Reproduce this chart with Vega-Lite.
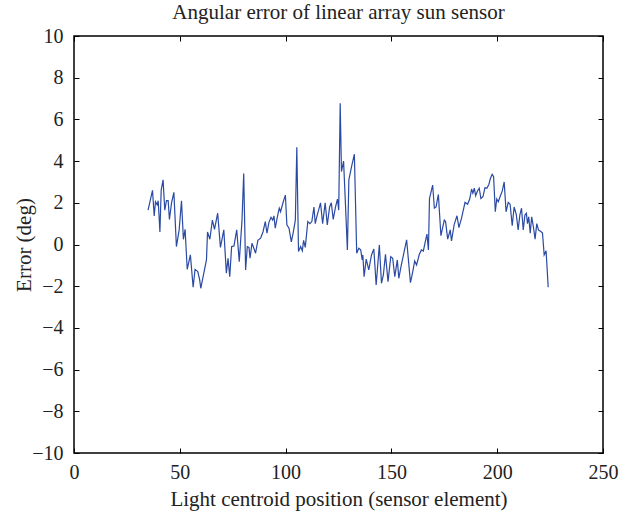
{
  "$schema": "https://vega.github.io/schema/vega-lite/v6.json",
  "width": 529,
  "height": 417,
  "autosize": {"type": "none"},
  "padding": {"left": 74, "top": 36, "right": 31, "bottom": 64},
  "background": "white",
  "config": {
    "font": "Liberation Serif",
    "view": {"stroke": "black", "strokeWidth": 1.5},
    "axis": {"grid": false, "domain": false, "tickColor": "black", "tickSize": -5, "tickWidth": 1, "labelFlush": false, "labelFont": "Liberation Serif", "labelFontSize": 20, "labelColor": "#222", "titleFont": "Liberation Serif", "titleFontSize": 21, "titleFontWeight": "normal", "titleColor": "#222"}
  },
  "title": {"text": "Angular error of linear array sun sensor", "font": "Liberation Serif", "fontSize": 21, "fontWeight": "normal", "color": "#222", "offset": 3},
  "data": {"values": [
    {"x":35.0,"y":1.65},{"x":37.1,"y":2.6},{"x":37.9,"y":1.37},{"x":38.5,"y":2.05},{"x":39.3,"y":1.9},{"x":39.8,"y":2.1},{"x":40.6,"y":0.6},{"x":41.2,"y":2.6},{"x":42.1,"y":3.1},{"x":42.9,"y":1.65},{"x":43.7,"y":2.1},{"x":44.5,"y":2.1},{"x":45.1,"y":1.2},{"x":46.1,"y":2.0},{"x":47.2,"y":2.5},{"x":48.4,"y":-0.1},{"x":49.7,"y":0.7},{"x":50.8,"y":2.1},{"x":51.7,"y":0.25},{"x":52.5,"y":0.73},{"x":53.5,"y":-1.19},{"x":55.0,"y":-0.5},{"x":56.3,"y":-2.05},{"x":57.2,"y":-1.19},{"x":58.5,"y":-1.3},{"x":59.4,"y":-1.7},{"x":59.9,"y":-2.1},{"x":61.3,"y":-1.4},{"x":62.6,"y":-0.74},{"x":63.1,"y":0.6},{"x":64.2,"y":0.25},{"x":65.4,"y":1.17},{"x":66.4,"y":0.73},{"x":67.9,"y":1.5},{"x":69.2,"y":-0.14},{"x":70.8,"y":0.7},{"x":72.0,"y":-1.38},{"x":72.8,"y":-0.66},{"x":73.6,"y":-1.54},{"x":74.5,"y":-0.1},{"x":75.6,"y":-0.07},{"x":76.9,"y":0.7},{"x":78.1,"y":-0.82},{"x":79.4,"y":1.17},{"x":80.2,"y":3.4},{"x":81.1,"y":-1.22},{"x":81.9,"y":-0.1},{"x":82.7,"y":-0.14},{"x":83.2,"y":-0.66},{"x":84.1,"y":0.06},{"x":85.0,"y":-0.18},{"x":85.8,"y":-0.42},{"x":86.9,"y":0.2},{"x":88.2,"y":0.3},{"x":89.3,"y":0.6},{"x":90.4,"y":1.1},{"x":91.2,"y":0.54},{"x":92.1,"y":1.05},{"x":93.1,"y":1.3},{"x":93.9,"y":1.17},{"x":94.5,"y":1.37},{"x":95.1,"y":0.78},{"x":96.1,"y":1.33},{"x":97.0,"y":1.74},{"x":97.6,"y":1.57},{"x":98.9,"y":2.05},{"x":99.9,"y":2.37},{"x":100.6,"y":0.94},{"x":101.6,"y":0.78},{"x":102.7,"y":0.13},{"x":103.6,"y":0.57},{"x":104.6,"y":1.17},{"x":105.3,"y":4.66},{"x":106.1,"y":-0.34},{"x":107.1,"y":-0.1},{"x":107.9,"y":-0.3},{"x":108.5,"y":0.2},{"x":109.3,"y":-0.14},{"x":110.5,"y":1.1},{"x":111.5,"y":1.0},{"x":112.4,"y":1.1},{"x":113.4,"y":1.8},{"x":114.0,"y":1.0},{"x":114.9,"y":1.4},{"x":115.6,"y":1.65},{"x":116.5,"y":2.0},{"x":117.5,"y":1.0},{"x":118.7,"y":2.0},{"x":119.7,"y":0.94},{"x":120.8,"y":1.8},{"x":121.6,"y":2.0},{"x":122.5,"y":1.2},{"x":123.6,"y":1.8},{"x":124.5,"y":2.18},{"x":125.1,"y":1.65},{"x":125.8,"y":6.77},{"x":126.4,"y":3.5},{"x":127.4,"y":4.0},{"x":128.3,"y":1.9},{"x":129.2,"y":-0.26},{"x":129.9,"y":3.1},{"x":131.1,"y":3.7},{"x":132.5,"y":4.33},{"x":133.6,"y":-0.42},{"x":134.6,"y":-0.18},{"x":135.5,"y":-0.26},{"x":136.2,"y":-0.74},{"x":136.5,"y":-0.5},{"x":137.1,"y":-1.54},{"x":138.1,"y":-0.7},{"x":139.3,"y":-1.22},{"x":140.6,"y":-0.5},{"x":141.7,"y":-0.22},{"x":142.8,"y":-1.94},{"x":144.3,"y":-0.02},{"x":145.3,"y":-1.86},{"x":146.2,"y":-1.46},{"x":147.2,"y":-0.47},{"x":148.4,"y":-1.78},{"x":149.7,"y":-0.58},{"x":150.6,"y":-0.66},{"x":151.6,"y":-1.54},{"x":152.8,"y":-0.74},{"x":153.5,"y":-1.62},{"x":154.7,"y":-0.98},{"x":157.2,"y":0.22},{"x":159.0,"y":-1.83},{"x":160.1,"y":-1.3},{"x":161.0,"y":-0.79},{"x":161.9,"y":-0.98},{"x":163.2,"y":-0.47},{"x":164.2,"y":-0.26},{"x":165.1,"y":-0.31},{"x":166.0,"y":0.13},{"x":166.8,"y":0.5},{"x":167.5,"y":-0.26},{"x":168.0,"y":2.2},{"x":169.5,"y":2.85},{"x":170.3,"y":1.74},{"x":171.1,"y":1.8},{"x":172.2,"y":2.4},{"x":173.4,"y":0.42},{"x":175.0,"y":1.17},{"x":175.6,"y":1.1},{"x":176.6,"y":0.26},{"x":177.8,"y":0.7},{"x":178.4,"y":0.17},{"x":179.7,"y":0.97},{"x":181.0,"y":1.38},{"x":181.9,"y":0.81},{"x":183.2,"y":1.29},{"x":184.8,"y":2.02},{"x":186.0,"y":1.93},{"x":187.0,"y":2.18},{"x":187.9,"y":2.66},{"x":188.5,"y":2.46},{"x":189.2,"y":2.7},{"x":189.8,"y":2.34},{"x":190.7,"y":2.57},{"x":191.5,"y":2.7},{"x":192.3,"y":2.2},{"x":193.3,"y":2.3},{"x":194.2,"y":2.72},{"x":195.1,"y":2.7},{"x":196.1,"y":2.89},{"x":196.7,"y":3.14},{"x":197.6,"y":3.37},{"x":198.3,"y":3.25},{"x":199.1,"y":1.57},{"x":199.8,"y":2.18},{"x":200.5,"y":2.05},{"x":201.4,"y":2.3},{"x":202.4,"y":2.57},{"x":203.3,"y":3.0},{"x":204.2,"y":1.57},{"x":205.2,"y":2.02},{"x":206.1,"y":1.93},{"x":207.1,"y":0.9},{"x":208.0,"y":1.8},{"x":209.0,"y":1.45},{"x":209.9,"y":0.7},{"x":210.7,"y":1.41},{"x":211.5,"y":1.74},{"x":212.3,"y":0.7},{"x":213.1,"y":1.41},{"x":213.8,"y":1.5},{"x":214.3,"y":1.0},{"x":214.9,"y":1.33},{"x":215.6,"y":0.54},{"x":216.3,"y":1.33},{"x":217.1,"y":0.85},{"x":217.9,"y":0.26},{"x":218.7,"y":1.0},{"x":219.5,"y":0.7},{"x":220.3,"y":0.65},{"x":220.9,"y":0.6},{"x":221.4,"y":0.55},{"x":222.2,"y":-0.5},{"x":223.1,"y":-0.3},{"x":224.1,"y":-2.05}
  ]},
  "layer": [
    {
      "mark": {"type": "line", "color": "#2B4AA3", "strokeWidth": 1.2},
      "encoding": {
        "x": {"field": "x", "type": "quantitative", "scale": {"domain": [0, 250], "nice": false, "zero": false}, "axis": {"orient": "bottom", "title": "Light centroid position (sensor element)", "values": [0, 50, 100, 150, 200, 250], "labelPadding": 14, "titlePadding": 6}},
        "y": {"field": "y", "type": "quantitative", "scale": {"domain": [-10, 10], "nice": false, "zero": false}, "axis": {"orient": "left", "title": "Error (deg)", "values": [-10, -8, -6, -4, -2, 0, 2, 4, 6, 8, 10], "labelPadding": 16, "titlePadding": -3}}
      }
    },
    {
      "mark": {"type": "line", "strokeOpacity": 0},
      "encoding": {
        "x": {"field": "x", "type": "quantitative", "scale": {"domain": [0, 250], "nice": false, "zero": false}, "axis": {"orient": "top", "title": null, "labels": false, "values": [0, 50, 100, 150, 200, 250]}},
        "y": {"field": "y", "type": "quantitative", "scale": {"domain": [-10, 10], "nice": false, "zero": false}, "axis": {"orient": "right", "title": null, "labels": false, "values": [-10, -8, -6, -4, -2, 0, 2, 4, 6, 8, 10]}}
      }
    }
  ],
  "resolve": {"axis": {"x": "independent", "y": "independent"}}
}
